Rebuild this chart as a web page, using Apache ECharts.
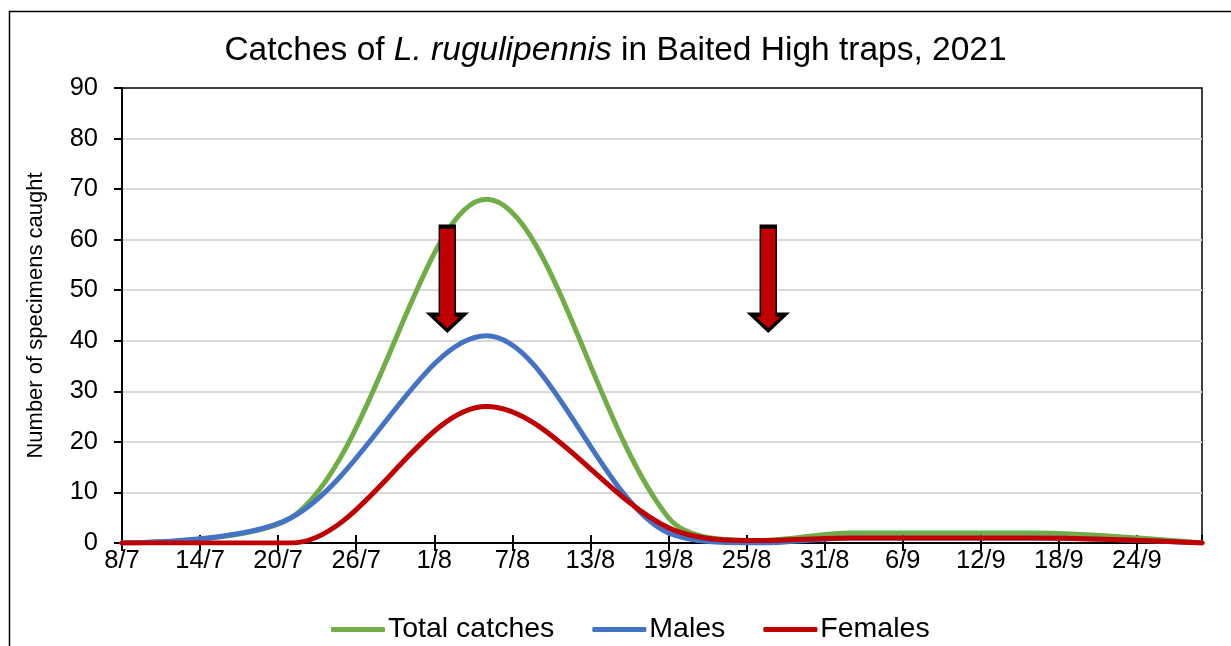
<!DOCTYPE html>
<html><head><meta charset="utf-8">
<script src="https://cdn.jsdelivr.net/npm/echarts@6/dist/echarts.min.js"></script>
<style>html,body{margin:0;padding:0;background:#fff;} #c{width:1231px;height:646px;}</style>
</head><body><div id="c"></div>
<script>
// ---- data ----
const axisStart = '2021-07-08';
const axisEnd = '2021-09-29';
const sampleDates = ['2021-07-08','2021-07-21','2021-08-05','2021-08-19','2021-08-26','2021-09-02','2021-09-16','2021-09-29'];
const totalCatches = [0, 5, 68, 5, 0.5, 2, 2, 0];
const males        = [0, 5, 41, 2, 0, 1, 1, 0];
const females      = [0, 0, 27, 3, 0.5, 1, 1, 0];
const arrowDates = ['2021-08-02T00:00', '2021-08-26T16:00'];
const arrowLevel = 52.3;
const yMax = 90, yStep = 10, xStepDays = 6;

function dayOf(s){
  const p = s.split('T'); const d = p[0].split('-').map(Number);
  let h = 0; if (p[1]) h = Number(p[1].split(':')[0]);
  return (Date.UTC(d[0], d[1]-1, d[2], h) - Date.UTC(2021, 6, 8)) / 86400000;
}
const x0 = dayOf(axisStart), x1 = dayOf(axisEnd);
const pairs = arr => sampleDates.map((d,i)=>[dayOf(d), arr[i]]);
function fmtDay(v){
  if (Math.abs(v % xStepDays) > 1e-6) return '';
  const dt = new Date(Date.UTC(2021, 6, 8) + v*86400000);
  return dt.getUTCDate() + '/' + (dt.getUTCMonth()+1);
}
const FONT = '"Liberation Sans", Arial, sans-serif';
const arrowPath = 'path://M9 0 L25 0 L25 88 L34 88 L17 104 L0 88 L9 88 Z';

const chart = echarts.init(document.getElementById('c'), null, {renderer:'canvas'});
const lineSeries = (name, data, color, z) => ({
  name, type:'line', data: pairs(data), smooth: 0.33, showSymbol:false, symbol:'none',
  lineStyle:{color, width:5, cap:'round', join:'round'}, itemStyle:{color}, z
});
const opt = {
  animation:false,
  backgroundColor:'#fff',
  title:{
    left:'center', top:29,
    text:'{n|Catches of }{i|L. rugulipennis}{n| in Baited High traps, 2021}',
    textStyle:{rich:{
      n:{fontFamily:FONT, fontSize:33.5, fontWeight:'normal', color:'#000'},
      i:{fontFamily:FONT, fontSize:33.5, fontWeight:'normal', fontStyle:'italic', color:'#000'}
    }}
  },
  legend:{
    bottom:-3, left:326, itemWidth:54, itemHeight:5, itemGap:38,
    icon:'roundRect',
    textStyle:{fontFamily:FONT, fontSize:28.5, color:'#000', padding:[0,0,0,-2]},
    data:['Total catches','Males','Females']
  },
  grid:{left:122, right:29, top:88, bottom:103, show:true, borderColor:'#000', borderWidth:1.5, containLabel:false},
  xAxis:[{
    type:'value', min:x0, max:x1, interval:xStepDays,
    axisLine:{lineStyle:{color:'#000', width:2}},
    axisTick:{show:true, length:8, lineStyle:{color:'#000', width:2}},
    axisLabel:{formatter:fmtDay, fontFamily:FONT, fontSize:25.5, color:'#000', margin:5, showMaxLabel:false},
    splitLine:{show:false}
  },{
    type:'value', min:x0, max:x1, interval:xStepDays, position:'bottom',
    axisLine:{show:false},
    axisTick:{show:true, inside:true, length:8, lineStyle:{color:'#000', width:2}},
    axisLabel:{show:false}, splitLine:{show:false}
  }],
  yAxis:{
    type:'value', min:0, max:yMax, interval:yStep,
    name:'Number of specimens caught', nameLocation:'middle', nameGap:75,
    nameTextStyle:{fontFamily:FONT, fontSize:22, color:'#000'},
    axisLine:{show:true, lineStyle:{color:'#000', width:2}},
    axisTick:{show:true, length:8, lineStyle:{color:'#000', width:2}},
    axisLabel:{fontFamily:FONT, fontSize:25.5, color:'#000', margin:24},
    splitLine:{lineStyle:{color:'#d9d9d9', width:2}, showMaxLine:false}
  },
  graphic:[{
    type:'rect', left:7, top:9, shape:{width:1300, height:700},
    style:{fill:'none', stroke:'#000', lineWidth:1.5}, silent:true, z:-10
  }],
  series:[
    Object.assign(lineSeries('Total catches', totalCatches, '#70AD47', 3), {
      markPoint:{
        symbol:arrowPath, symbolSize:[34,104], symbolKeepAspect:false,
        itemStyle:{color:'#C00000', borderColor:'#000', borderWidth:2.5},
        label:{show:false}, z:10,
        data: arrowDates.map(d=>({coord:[dayOf(d), arrowLevel]}))
      }
    }),
    lineSeries('Males', males, '#4472C4', 4),
    lineSeries('Females', females, '#C00000', 5)
  ]
};
chart.setOption(opt);
</script></body></html>
